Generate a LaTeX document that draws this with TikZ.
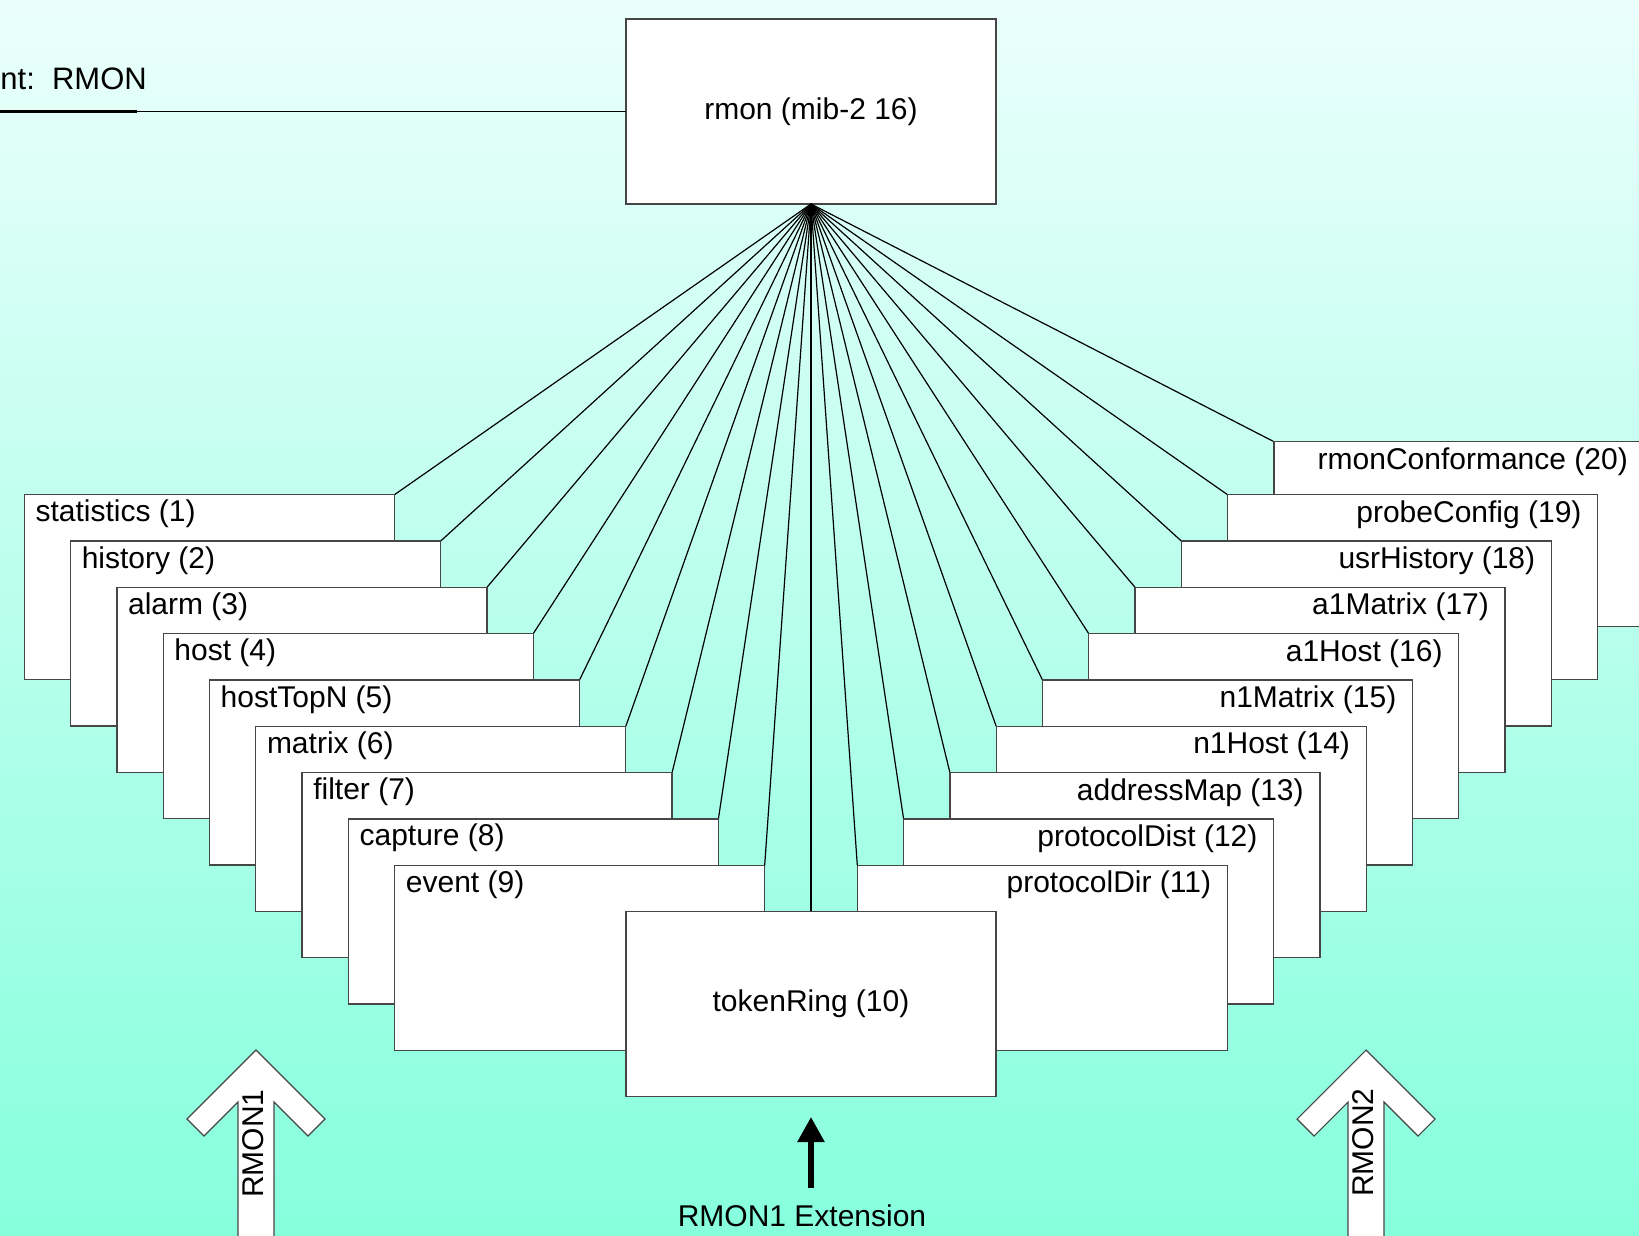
\documentclass[tikz,border=0pt]{standalone}
\usepackage{fontspec}
\setmainfont{Liberation Sans}
\usetikzlibrary{arrows.meta}
\definecolor{bgtop}{RGB}{235,255,251}
\definecolor{bgbot}{RGB}{134,255,221}
\definecolor{edge}{RGB}{70,70,70}

\begin{document}
\begin{tikzpicture}[x=1pt,y=-1pt,
  every node/.style={font=\fontsize{30}{36}\selectfont},
  box/.style={draw=edge, line width=1.3pt, fill=white, minimum width=370pt,
    minimum height=185pt, inner sep=0pt, outer sep=0pt},
  lbox/.style={box, anchor=north east,
    label={[anchor=base west, inner sep=0pt, xshift=11pt, yshift=-27pt]north west:#1}},
  rbox/.style={box, anchor=north west,
    label={[anchor=base east, inner sep=0pt, xshift=-16pt, yshift=-27.5pt]north east:#1}},
  spoke/.style={line width=1.2pt, black},
  blockarrow/.style={draw=edge, line width=1.1pt, fill=white, line join=miter}
]
\useasboundingbox (0,0) rectangle (1639,1235);
\clip (0,0) rectangle (1639,1235);

% background
\shade[top color=bgtop, bottom color=bgbot] (0,0) rectangle (1639,1235);

% title and root
\node[anchor=base east, inner sep=0pt, font=\fontsize{31}{37}\selectfont] (title) at (147,89) {nt:\ \ RMON};
\node[box] (rmon) at (811,111.5) {rmon (mib-2 16)};
\coordinate (tl) at (0,111.5);
\coordinate (tu) at (137,111.5);
\draw[line width=2.4pt] (tl) -- (tu);
\draw[line width=1.3pt] (tl) -- (rmon.west);

% attachment corners of the groups
\foreach \i in {1,...,9}{
  \pgfmathsetmacro\k{10-\i}
  \coordinate (c\i) at ({811-46.3*\k},{911.5-46.3*\k});
}
\foreach \i in {11,...,19}{
  \pgfmathsetmacro\k{\i-10}
  \coordinate (c\i) at ({811+46.3*\k},{911.5-46.3*\k});
}
\coordinate (c20) at (1274,441.7);
\coordinate (c10) at (811,911.5);

% spokes from the root
\foreach \i in {1,...,20}{
  \draw[spoke] (rmon.south) -- (c\i);
}

% left groups (1..9)
\foreach \i/\t in {1/statistics,2/history,3/alarm,4/host,5/hostTopN,
                   6/matrix,7/filter,8/capture,9/event}{
  \node[lbox={\t\ (\i)}] (g\i) at (c\i) {};
}
% right groups (20..11)
\foreach \i/\t in {20/rmonConformance,19/probeConfig,18/usrHistory,17/a1Matrix,
                   16/a1Host,15/n1Matrix,14/n1Host,13/addressMap,12/protocolDist,
                   11/protocolDir}{
  \node[rbox={\t\ (\i)}] (g\i) at (c\i) {};
}
% token ring in front
\node[box, anchor=north] (g10) at (c10) {tokenRing (10)};

% RMON1 block arrow
\draw[blockarrow, shift={(256,1050)}] (0,0) -- (69,69) -- (52,86) -- (18,52)
  -- (18,200) -- (-18,200) -- (-18,52) -- (-52,86) -- (-69,69) -- cycle;
\node[rotate=90, inner sep=0pt] (rmon1) at (253,1143.5) {RMON1};

% RMON2 block arrow
\draw[blockarrow, shift={(1366,1050)}] (0,0) -- (69,69) -- (52,86) -- (18,52)
  -- (18,200) -- (-18,200) -- (-18,52) -- (-52,86) -- (-69,69) -- cycle;
\node[rotate=90, inner sep=0pt] (rmon2) at (1363,1142.5) {RMON2};

% extension arrow
\coordinate (xs) at (811,1188);
\coordinate (xe) at (811,1117);
\draw[line width=5.5pt, -{Triangle[width=26pt,length=25pt]}] (xs) -- (xe);
\node[anchor=base, inner sep=0pt] (ext) at (802,1226.7) {RMON1 Extension};
\end{tikzpicture}
\end{document}
